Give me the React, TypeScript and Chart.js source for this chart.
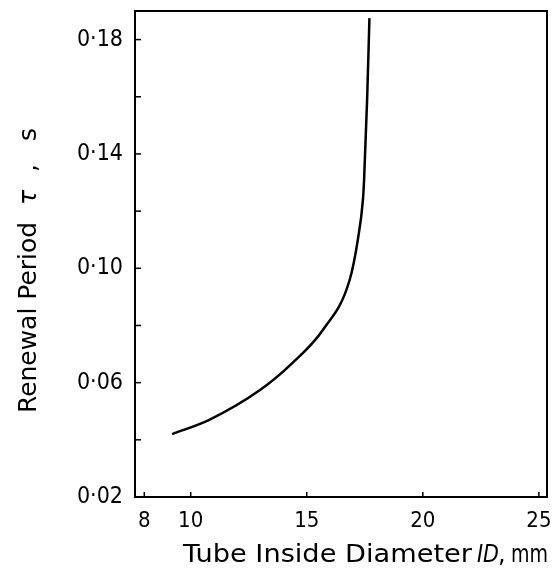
import React, { useEffect, useRef } from "react";
import { Chart, registerables } from "chart.js";

Chart.register(...registerables);

const diameterMm = [9.2, 10.8, 13.0, 14.4, 15.7, 16.85, 17.2, 17.42, 17.47, 17.6, 17.7];
const renewalPeriod = [0.042, 0.047, 0.0575, 0.067, 0.0785, 0.096, 0.110, 0.124, 0.131, 0.159, 0.1875];
const xTickValues = [8, 10, 15, 20, 25];
const yTickValues = [0.02, 0.04, 0.06, 0.08, 0.10, 0.12, 0.14, 0.16, 0.18];
const yLabelledTicks = [0.02, 0.06, 0.10, 0.14, 0.18];

const FONT = "'DejaVu Sans', sans-serif";
const FONT_C = "'DejaVu Sans Condensed', 'DejaVu Sans', sans-serif";

function fitText(ctx: any, text: string, a: number, b: number, size: number, italic: boolean) {
  ctx.font = `${italic ? "italic " : ""}${size}px ${FONT}`;
  const w = ctx.measureText(text).width;
  ctx.save();
  ctx.translate(a, 0);
  ctx.scale((b - a) / w, 1);
  ctx.fillText(text, 0, 0);
  ctx.restore();
}

function plainText(ctx: any, text: string, a: number, size: number, italic: boolean) {
  ctx.font = `${italic ? "italic " : ""}${size}px ${FONT}`;
  ctx.fillText(text, a, 0);
}

const framePlugin = {
  id: "frameAndTitles",
  afterDraw(chart: any) {
    const { ctx, chartArea } = chart;
    const { left, right, top, bottom } = chartArea;
    ctx.save();
    ctx.strokeStyle = "#000";
    ctx.lineWidth = 2;
    ctx.strokeRect(left, top, right - left, bottom - top);
    ctx.lineWidth = 1.5;
    const xs = chart.scales.x;
    const ys = chart.scales.y;
    xTickValues.forEach((v) => {
      const px = xs.getPixelForValue(v);
      ctx.beginPath();
      ctx.moveTo(px, bottom);
      ctx.lineTo(px, bottom - 5);
      ctx.stroke();
    });
    yTickValues.forEach((v) => {
      const py = ys.getPixelForValue(v);
      ctx.beginPath();
      ctx.moveTo(left, py);
      ctx.lineTo(left + 6, py);
      ctx.stroke();
    });
    ctx.fillStyle = "#000";
    ctx.textBaseline = "alphabetic";
    ctx.textAlign = "left";
    // x title
    ctx.save();
    ctx.translate(0, 562);
    fitText(ctx, "Tube Inside Diameter", 183, 472, 24, false);
    fitText(ctx, "ID", 477, 499, 24, true);
    plainText(ctx, ",", 498, 24, false);
    fitText(ctx, "mm", 511, 548, 24, false);
    ctx.restore();
    // y title (rotated, reading bottom to top)
    ctx.save();
    ctx.translate(36, 573);
    ctx.rotate(-Math.PI / 2);
    fitText(ctx, "Renewal Period", 573 - 413, 573 - 222, 25, false);
    plainText(ctx, "τ", 573 - 205, 25, true);
    plainText(ctx, ",", 573 - 172, 25, false);
    plainText(ctx, "s", 573 - 141, 25, false);
    ctx.restore();
    ctx.restore();
  },
};

export default function App() {
  const ref = useRef<HTMLCanvasElement | null>(null);
  useEffect(() => {
    document.body.style.margin = "0";
    const canvas = ref.current;
    if (!canvas) return;
    const chart = new Chart(canvas, {
      type: "line",
      data: {
        datasets: [
          {
            data: diameterMm.map((x, i) => ({ x, y: renewalPeriod[i] })),
            borderColor: "#000",
            borderWidth: 2.5,
            pointRadius: 0,
            fill: false,
            cubicInterpolationMode: "monotone",
          },
        ],
      },
      options: {
        responsive: false,
        animation: false,
        layout: { padding: { top: 11, right: 11, left: 0, bottom: 0 } },
        plugins: { legend: { display: false }, tooltip: { enabled: false } },
        scales: {
          x: {
            type: "linear",
            min: 7.6,
            max: 25.35,
            grid: { display: false, drawTicks: false },
            border: { display: false },
            afterBuildTicks: (s: any) => {
              s.ticks = xTickValues.map((v) => ({ value: v }));
            },
            afterFit: (s: any) => {
              s.height = 76;
              s.paddingLeft = 0;
              s.paddingRight = 0;
            },
            ticks: {
              color: "#000",
              padding: 11,
              maxRotation: 0,
              autoSkip: false,
              font: { family: FONT_C, size: 22 },
              callback: (v: any) => String(v),
            },
          },
          y: {
            type: "linear",
            min: 0.02,
            max: 0.19,
            grid: { display: false, drawTicks: false },
            border: { display: false },
            afterBuildTicks: (s: any) => {
              s.ticks = yTickValues.map((v) => ({ value: v }));
            },
            afterFit: (s: any) => {
              s.width = 135;
              s.paddingTop = 0;
              s.paddingBottom = 0;
            },
            ticks: {
              color: "#000",
              padding: 12,
              autoSkip: false,
              font: { family: FONT_C, size: 23 },
              callback: (v: any) => {
                const n = Number(v);
                if (!yLabelledTicks.some((t) => Math.abs(t - n) < 1e-6)) return "";
                return n.toFixed(2).replace(".", "·");
              },
            },
          },
        },
      },
      plugins: [framePlugin],
    } as any);
    return () => chart.destroy();
  }, []);
  return <canvas ref={ref} width={558} height={573} style={{ display: "block" }} />;
}
